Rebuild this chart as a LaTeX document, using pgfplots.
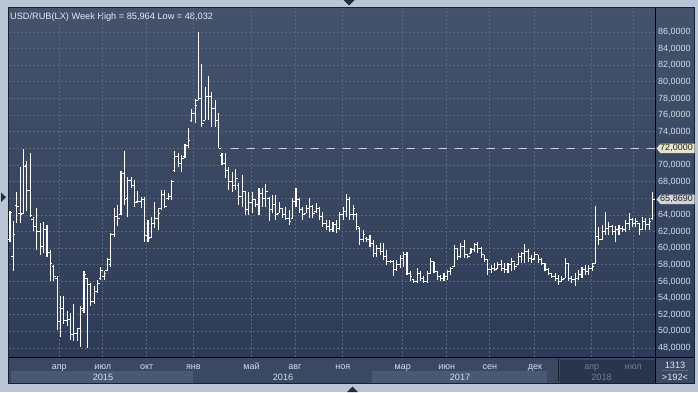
\documentclass[border=0pt]{standalone}
\usepackage{fontspec}
\setmainfont{Liberation Sans}
\usepackage{pgfplots}
\pgfplotsset{compat=1.18}
\usepackage{pgfplotstable}

\definecolor{outerc}{HTML}{B9C5D5}
\definecolor{panelc}{HTML}{3A4862}
\definecolor{plottop}{HTML}{44526C}
\definecolor{plotbot}{HTML}{2E3B56}
\definecolor{datec}{HTML}{3A4862}
\definecolor{bandc}{HTML}{4A5874}
\definecolor{darkc}{HTML}{29354D}
\definecolor{gridc}{HTML}{58677F}
\definecolor{labc}{HTML}{D0DDEE}
\definecolor{dimc}{HTML}{6E7E96}
\definecolor{titc}{HTML}{E2EAF2}
\definecolor{boxa}{HTML}{E6E4C8}
\definecolor{boxb}{HTML}{D2D6DA}
\definecolor{dashc}{HTML}{D2D4D8}
\definecolor{bordc}{HTML}{18212F}
\definecolor{tric}{HTML}{1E2C42}

\pgfplotstableread{
i H L O C
0 64.5 60.7 61.0 64.3
1 63.3 57.3 59.0 61.6
2 66.8 63.0 65.1 65.0
3 69.8 63.0 64.2 64.0
4 71.9 64.1 64.2 69.8
5 70.5 64.5 69.9 67.0
6 71.5 63.8 67.0 63.9
7 63.8 62.1 63.5 62.6
8 64.8 59.8 62.6 62.0
9 63.0 59.2 62.0 60.2
10 63.2 59.4 60.2 62.2
11 62.8 59.0 62.2 59.5
12 59.8 56.0 59.5 58.2
13 58.0 56.0 57.8 56.6
14 56.6 50.2 56.4 51.2
15 54.2 49.3 51.2 52.8
16 54.2 50.9 52.8 51.3
17 52.5 50.6 51.3 51.4
18 52.2 49.0 51.4 49.6
19 53.3 48.9 49.6 49.7
20 50.3 48.9 49.7 50.3
21 53.0 48.1 50.3 52.8
22 57.3 52.2 52.5 56.8
23 56.4 48.032 56.3 55.6
24 55.8 53.0 55.6 53.6
25 55.4 53.3 53.6 54.8
26 56.2 54.6 54.8 55.8
27 57.8 56.2 56.3 57.3
28 57.2 56.2 56.6 57.0
29 58.8 57.2 57.3 58.7
30 61.8 57.8 58.0 61.6
31 64.8 61.4 61.6 63.8
32 65.2 62.7 63.8 63.6
33 69.3 64.0 64.0 69.0
34 71.7 65.2 69.0 65.8
35 68.6 63.7 66.0 68.2
36 68.6 67.3 68.2 67.5
37 68.2 65.0 67.5 65.5
38 66.9 65.4 65.6 65.6
39 66.2 64.8 65.6 65.8
40 66.2 60.8 65.8 61.5
41 63.4 60.7 61.5 61.2
42 63.8 61.2 61.3 63.0
43 65.6 62.4 63.0 63.6
44 64.8 62.2 63.6 64.2
45 67.0 64.6 64.8 66.4
46 67.0 64.8 66.4 65.0
47 66.6 65.8 66.0 66.2
48 68.2 65.8 66.2 68.0
49 71.7 69.2 69.4 71.0
50 71.5 69.8 71.0 70.2
51 71.2 69.2 70.2 70.8
52 72.5 70.8 71.0 72.3
53 74.4 72.0 72.4 73.0
54 76.8 75.2 75.4 76.2
55 78.0 75.0 76.2 77.2
56 85.964 77.8 77.8 78.0
57 82.2 74.6 78.0 75.0
58 79.4 75.4 75.4 78.2
59 80.7 75.4 78.2 78.2
60 78.8 74.6 78.2 76.8
61 77.8 74.6 76.8 75.3
62 76.2 72.0 75.3 72.0
63 71.4 70.0 71.2 70.2
64 71.4 68.4 70.2 69.4
65 69.8 67.0 69.4 68.0
66 69.2 66.8 68.0 67.5
67 69.5 67.0 67.5 68.4
68 67.8 65.2 67.6 66.2
69 68.8 65.0 66.2 66.8
70 66.8 64.0 66.8 64.6
71 66.8 64.0 64.6 65.5
72 66.8 64.2 65.5 65.8
73 65.9 65.0 65.8 65.2
74 67.2 64.0 65.2 66.6
75 67.3 65.0 66.6 66.0
76 67.7 64.9 66.0 66.8
77 66.2 63.3 66.0 64.6
78 66.4 64.2 64.6 65.2
79 66.4 63.4 65.2 64.0
80 65.6 64.2 64.2 64.8
81 64.8 63.6 64.8 64.0
82 65.0 63.4 64.0 63.6
83 64.6 62.8 63.6 63.2
84 66.0 63.6 63.6 65.6
85 67.3 65.0 65.6 65.8
86 66.0 64.2 65.8 64.6
87 65.0 63.4 64.6 64.0
88 65.2 64.2 64.2 64.8
89 66.0 63.6 64.8 65.0
90 65.2 63.6 65.0 64.2
91 65.4 64.2 64.4 64.8
92 65.0 63.4 64.8 63.8
93 64.4 62.6 63.8 63.0
94 63.4 62.2 63.0 62.6
95 63.4 62.0 62.6 62.2
96 63.2 62.0 62.2 62.8
97 63.4 61.8 62.8 62.4
98 64.4 62.2 62.4 64.0
99 65.0 63.4 64.0 64.4
100 66.5 63.8 64.4 65.8
101 66.2 63.4 65.8 64.0
102 65.2 63.4 64.0 64.8
103 64.2 62.2 64.0 62.6
104 62.6 60.4 62.4 61.0
105 62.2 60.8 61.0 61.6
106 61.3 60.8 61.2 61.0
107 61.6 60.2 61.0 60.6
108 61.0 59.0 60.6 59.4
109 60.4 59.0 59.4 60.0
110 60.6 59.2 60.0 59.6
111 60.6 58.6 59.6 59.0
112 59.8 58.0 59.0 58.4
113 58.6 58.2 58.4 58.4
114 58.6 56.6 58.4 57.4
115 58.6 57.2 57.4 58.0
116 59.2 57.6 58.0 58.8
117 59.6 57.8 58.8 59.2
118 59.6 56.8 59.2 57.0
119 57.2 56.0 57.0 56.6
120 56.2 55.8 56.2 56.0
121 57.6 55.8 56.0 57.0
122 57.2 56.0 57.0 56.4
123 56.6 55.8 56.4 56.0
124 57.2 55.8 56.0 57.0
125 58.8 57.0 57.0 58.4
126 58.4 57.0 58.4 57.2
127 57.2 56.2 57.2 56.6
128 56.8 56.0 56.6 56.4
129 57.0 56.0 56.4 56.6
130 57.4 56.2 56.6 57.2
131 57.8 56.8 57.2 57.6
132 60.4 57.8 57.8 60.0
133 60.0 58.6 60.0 59.0
134 60.6 58.8 59.0 60.2
135 61.0 58.8 60.2 59.2
136 59.2 58.8 59.2 59.0
137 60.0 59.4 59.4 59.8
138 60.6 59.6 59.8 60.4
139 60.8 59.4 60.4 60.0
140 60.2 58.8 60.0 59.2
141 59.2 58.4 59.2 58.6
142 58.6 56.8 58.6 57.4
143 58.0 57.0 57.4 57.6
144 58.2 57.2 57.6 57.4
145 58.4 57.6 57.6 58.0
146 58.6 57.2 58.0 57.6
147 58.2 57.0 57.6 57.4
148 58.2 57.0 57.4 58.0
149 58.8 57.2 58.0 58.4
150 58.2 57.4 58.4 57.8
151 59.4 58.0 58.0 59.0
152 59.6 58.2 59.0 59.4
153 60.5 58.2 59.4 59.6
154 59.9 58.4 59.6 58.8
155 59.2 58.2 58.8 58.6
156 59.5 58.6 58.8 59.2
157 59.2 58.2 59.2 58.6
158 58.8 58.0 58.6 58.2
159 58.2 57.2 58.2 57.4
160 57.6 56.8 57.4 57.0
161 57.0 56.4 57.0 56.6
162 57.0 56.0 56.6 56.4
163 56.8 55.6 56.4 56.0
164 56.6 55.9 56.0 56.2
165 58.8 56.4 56.4 58.2
166 58.2 56.0 58.2 56.4
167 56.6 55.8 56.4 56.2
168 57.0 55.5 56.2 56.4
169 57.4 56.2 56.4 56.8
170 57.8 56.4 56.8 57.4
171 58.0 56.8 57.4 57.2
172 58.0 56.8 57.2 57.6
173 58.2 57.2 57.6 57.8
174 65.1 58.1 58.2 61.4
175 62.6 60.4 61.4 61.0
176 62.8 61.0 61.0 62.0
177 64.3 61.6 62.0 62.4
178 63.2 61.6 62.4 62.6
179 62.8 61.6 62.6 62.0
180 62.7 60.8 62.0 62.2
181 62.8 61.6 62.2 62.4
182 62.7 62.0 62.4 62.2
183 63.4 62.0 62.2 63.0
184 64.2 62.2 63.0 63.4
185 63.6 62.6 63.4 63.0
186 63.6 62.6 63.0 63.2
187 63.0 61.6 63.0 62.2
188 63.8 62.2 62.2 63.2
189 63.6 62.2 63.2 62.8
190 63.6 62.2 62.8 63.2
191 66.7 63.4 63.6 65.869
}\ohlc

\begin{document}
\begin{tikzpicture}[x=1pt,y=1pt]
\useasboundingbox (0,0) rectangle (698,392);
\fill[outerc] (0,0) rectangle (698,392);
\fill[panelc] (8,9) rectangle (694,384);
\shade[top color=plottop, bottom color=plotbot] (9,35) rectangle (694,384);
\fill[datec] (9,9) rectangle (694,35);
\fill[bandc] (11,9) rectangle (193,21.5);
\fill[bandc] (372,9) rectangle (547,21.5);
\fill[darkc] (560,9) rectangle (655,32);
\draw[bordc, line width=0.8pt] (558,11) -- (558,33);
\draw[black, line width=1pt] (655,9) -- (655,384);
\draw[black, line width=1pt] (8,35) -- (694,35);
\draw[bordc, line width=1pt] (8,9) rectangle (694,384);
% navigation triangles
\fill[tric] (343.5,392) -- (354.5,392) -- (349,386.5) -- cycle;
\fill[tric] (347,0) -- (358,0) -- (352.5,5.5) -- cycle;
\fill[tric] (1,199.5) -- (1,190) -- (6,194.8) -- cycle;
% title
\node[anchor=base west, inner sep=0pt, text=titc, font=\fontsize{9.2}{11}\selectfont] at (10,373) {USD/RUB(LX) Week High = 85,964 Low = 48,032};
% years
\node[anchor=base, inner sep=0pt, text=labc, font=\fontsize{9.2}{11}\selectfont] at (103,12) {2015};
\node[anchor=base, inner sep=0pt, text=labc, font=\fontsize{9.2}{11}\selectfont] at (283,12) {2016};
\node[anchor=base, inner sep=0pt, text=labc, font=\fontsize{9.2}{11}\selectfont] at (460,12) {2017};
\node[anchor=base, inner sep=0pt, text=dimc, font=\fontsize{9.2}{11}\selectfont] at (601.5,12) {2018};
% bottom right box
\node[anchor=base, inner sep=0pt, text=titc, font=\fontsize{9.2}{11}\selectfont] at (675,23.5) {1313};
\draw[gridc, line width=0.7pt] (661,21.2) -- (688,21.2);
\node[anchor=base, inner sep=0pt, text=titc, font=\fontsize{9.2}{11}\selectfont] at (675,11.5) {>192<};
\begin{axis}[
  at={(9pt,35pt)}, anchor=south west,
  scale only axis, width=646pt, height=349pt,
  xmin=-0.3, xmax=191.7, ymin=46.918, ymax=88.885,
  clip=false,
  axis line style={draw=none},
  major tick length=0pt,
  ytick={48,50,...,64,68,70,74,76,...,86},
  extra y ticks={66,72},
  extra y tick labels={},
  extra y tick style={grid=major},
  yticklabel pos=right,
  yticklabel style={anchor=west, inner sep=0pt, xshift=3pt, text=labc,
    font=\fontsize{9}{10}\selectfont,
    /pgf/number format/fixed, /pgf/number format/fixed zerofill,
    /pgf/number format/precision=4, /pgf/number format/use comma,
    /pgf/number format/1000 sep={}, /pgf/number format/assume math mode=true},
  xtick={14.65,27.55,40.6,54.5,71.8,84.7,98.9,116.7,129.8,142.6,156.0,172.9,185.2},
  xticklabels={апр,июл,окт,янв,май,авг,ноя,мар,июн,сен,дек,\textcolor{dimc}{апр},\textcolor{dimc}{июл}},
  xticklabel style={anchor=base, inner sep=0pt, yshift=-12.5pt, text=labc, font=\fontsize{9}{10}\selectfont},
  grid=major,
  major grid style={draw=gridc, line width=0.8pt, dash pattern=on 2pt off 2pt},
]
\addplot[dashc, line width=1.6pt, dash pattern=on 8pt off 8pt, forget plot] coordinates {(65.6,72) (191.7,72)};
\addplot[draw=none, mark=none, forget plot,
  error bars/.cd, y dir=plus, y explicit, error mark=none,
  error bar style={draw=white, solid, line width=1.1pt}]
  table[x=i, y=L, y error expr=\thisrow{H}-\thisrow{L}] {\ohlc};
\addplot[draw=none, mark=none, forget plot,
  error bars/.cd, x dir=minus, x explicit, error mark=none,
  error bar style={draw=white, solid, line width=1pt}]
  table[x=i, y=O, x error expr=0.62] {\ohlc};
\addplot[draw=none, mark=none, forget plot,
  error bars/.cd, x dir=plus, x explicit, error mark=none,
  error bar style={draw=white, solid, line width=1pt}]
  table[x=i, y=C, x error expr=0.62] {\ohlc};
% price boxes
\fill[boxa] ([xshift=1.5pt]axis cs:191.7,72) -- ++(4pt,4.8pt) -- ++(34pt,0pt) -- ++(0pt,-9.6pt) -- ++(-34pt,0pt) -- cycle;
\node[anchor=center, inner sep=0pt, text=black!85, font=\fontsize{9}{10}\selectfont] at ([xshift=21.5pt]axis cs:191.7,72) {72,0000};
\fill[boxb] ([xshift=1.5pt]axis cs:191.7,65.869) -- ++(4pt,4.8pt) -- ++(34pt,0pt) -- ++(0pt,-9.6pt) -- ++(-34pt,0pt) -- cycle;
\node[anchor=center, inner sep=0pt, text=black!85, font=\fontsize{9}{10}\selectfont] at ([xshift=21.5pt]axis cs:191.7,65.869) {65,8690};
\end{axis}
\end{tikzpicture}
\end{document}
